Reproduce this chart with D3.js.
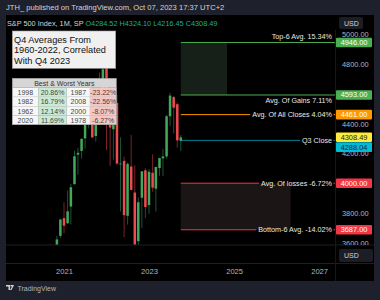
<!DOCTYPE html>
<html>
<head>
<meta charset="utf-8">
<script src="https://cdn.jsdelivr.net/npm/d3@7"></script>
<style>
  html, body { margin: 0; padding: 0; background: #1e212b; }
  svg { display: block; font-family: "Liberation Sans", Arial, sans-serif; }
</style>
</head>
<body>
<svg id="chart" width="380" height="300"></svg>
<script>
// monthly S&P 500 candles, Sep 2020 .. Oct 2023
const months = [
  '2020-09', '2020-10', '2020-11', '2020-12',
  '2021-01', '2021-02', '2021-03', '2021-04', '2021-05', '2021-06',
  '2021-07', '2021-08', '2021-09', '2021-10', '2021-11', '2021-12',
  '2022-01', '2022-02', '2022-03', '2022-04', '2022-05', '2022-06',
  '2022-07', '2022-08', '2022-09', '2022-10', '2022-11', '2022-12',
  '2023-01', '2023-02', '2023-03', '2023-04', '2023-05', '2023-06',
  '2023-07', '2023-08', '2023-09', '2023-10'
];
const opens = [3507, 3386, 3296, 3646, 3765, 3731, 3843, 3993, 4192, 4217, 4301, 4407, 4529, 4317, 4611, 4603,
  4778, 4520, 4363, 4540, 4131, 4150, 3781, 4112, 3937, 3610, 3902, 4087, 3853, 4070, 3963, 4102, 4167, 4180,
  4450, 4579, 4531, 4284.52];
const highs = [3588, 3550, 3646, 3760, 3871, 3950, 3994, 4219, 4238, 4302, 4430, 4546, 4546, 4608, 4744, 4809,
  4819, 4595, 4637, 4593, 4308, 4178, 4140, 4325, 4119, 3905, 4080, 4101, 4094, 4195, 4111, 4170, 4231, 4458,
  4607, 4585, 4541, 4324.10];
const lows = [3209, 3234, 3280, 3633, 3663, 3726, 3723, 3993, 4057, 4164, 4233, 4368, 4306, 4279, 4560, 4495,
  4223, 4115, 4158, 4124, 3810, 3637, 3722, 3955, 3584, 3492, 3698, 3764, 3794, 3943, 3809, 4049, 4048, 4166,
  4385, 4335, 4239, 4216.45];
const closes = [3363, 3270, 3622, 3756, 3714, 3811, 3973, 4181, 4204, 4298, 4395, 4523, 4308, 4605, 4567, 4766,
  4516, 4374, 4530, 4132, 4132, 3785, 4130, 3955, 3586, 3872, 4080, 3840, 4077, 3970, 4109, 4169, 4180, 4450,
  4589, 4508, 4288, 4308.49];

// projected Q4 levels
const levelNames = ['Top-6 Avg. 15.34%', 'Avg. Of Gains 7.11%', 'Avg. Of All Closes 4.04%', 'Q3 Close',
  'Avg. Of losses -6.72%', 'Bottom-6 Avg. -14.02%'];
const levelPrices = [4946, 4593, 4461, 4288.04, 4000, 3687];
const levelColors = ['#4caf50', '#4caf50', '#ff9800', '#00bcd4', '#f23645', '#f23645'];
const levelLabelPos = ['above', 'below', 'inline', 'inline', 'inline', 'inline'];
const lastClose = 4308.49;

const priceTicks = [5000, 4800, 4600, 4400, 4200, 4000, 3800, 3600];
const yearTicks = ['2021', '2023', '2025', '2027'];

// table
const bestYears = ['1998', '1982', '1962', '2020'];
const bestPct = ['20.86%', '16.79%', '12.14%', '11.69%'];
const worstYears = ['1987', '2008', '2000', '1978'];
const worstPct = ['-23.22%', '-22.56%', '-8.07%', '-6.27%'];

const titleLines = ['Q4 Averages From', '1960-2022, Correlated', 'With Q4 2023'];

const svg = d3.select('#chart');
const parse = d3.utcParse('%Y-%m');

const paneLeft = 6, paneRight = 374, paneTop = 15, paneBottom = 281;
const plotTop = 30, plotBottom = 245, axisX = 335;

const x = d3.scaleUtc()
  .domain([parse('2021-01'), parse('2023-01')])
  .range([64, 149]);
const y = d3.scaleLinear()
  .domain([3600, 4400])
  .range([242.7, 123.7]);

// frame
svg.append('rect').attr('x', paneLeft).attr('y', paneTop)
  .attr('width', paneRight - paneLeft).attr('height', paneBottom - paneTop).attr('fill', '#000');

svg.append('text').attr('x', 6).attr('y', 10)
  .attr('fill', '#d1d4dc').attr('font-size', 7.6)
  .text('JTH_ published on TradingView.com, Oct 07, 2023 17:37 UTC+2');

svg.append('clipPath').attr('id', 'plotclip').append('rect')
  .attr('x', paneLeft).attr('y', plotTop).attr('width', axisX - paneLeft).attr('height', plotBottom - plotTop);
svg.append('clipPath').attr('id', 'axisclip').append('rect')
  .attr('x', axisX).attr('y', plotTop).attr('width', paneRight - axisX).attr('height', plotBottom - plotTop);

const plot = svg.append('g').attr('clip-path', 'url(#plotclip)');

// shaded zones
plot.append('rect')
  .attr('x', x(parse('2023-10'))).attr('y', y(4946))
  .attr('width', x(parse('2024-11')) - x(parse('2023-10')))
  .attr('height', y(4593) - y(4946))
  .attr('fill', '#161f18');
plot.append('rect')
  .attr('x', x(parse('2023-10'))).attr('y', y(4000))
  .attr('width', x(parse('2026-05')) - x(parse('2023-10')))
  .attr('height', y(3687) - y(4000))
  .attr('fill', '#1c1515');

// candles
const candles = months.map((m, i) => ({
  date: parse(m), o: opens[i], h: highs[i], l: lows[i], c: closes[i]
}));
const bw = 2.5;
const cg = plot.selectAll('g.candle').data(candles).enter().append('g').attr('class', 'candle');
cg.append('line')
  .attr('x1', (d) => x(d.date)).attr('x2', (d) => x(d.date))
  .attr('y1', (d) => y(d.h)).attr('y2', (d) => y(d.l))
  .attr('stroke', (d) => d.c >= d.o ? '#1f6a4c' : '#9a2c33').attr('stroke-width', 0.8);
cg.append('rect')
  .attr('x', (d) => x(d.date) - bw / 2)
  .attr('y', (d) => y(Math.max(d.o, d.c)))
  .attr('width', bw)
  .attr('height', (d) => Math.max(0.8, Math.abs(y(d.o) - y(d.c))))
  .attr('fill', (d) => d.c >= d.o ? '#43a85a' : '#ee4b50');

// levels
const lx0 = x(parse('2023-10'));
const textRight = 332;
levelPrices.forEach((p, i) => {
  const ly = y(p);
  const col = levelColors[i];
  const pos = levelLabelPos[i];
  const t = plot.append('text')
    .attr('x', textRight).attr('text-anchor', 'end')
    .attr('fill', '#e8e8e8').attr('font-size', 7.2)
    .attr('dominant-baseline', 'central')
    .text(levelNames[i]);
  if (pos === 'above') t.attr('y', ly - 5.8);
  else if (pos === 'below') t.attr('y', ly + 6);
  else t.attr('y', ly);
  const lineOpacity = i === 3 ? 0.7 : 1;
  if (pos === 'inline') {
    const w = t.node().getComputedTextLength();
    plot.append('line').attr('x1', lx0).attr('x2', textRight - w - 2)
      .attr('y1', ly).attr('y2', ly).attr('stroke', col).attr('stroke-opacity', lineOpacity);
    plot.append('line').attr('x1', textRight + 1.5).attr('x2', axisX)
      .attr('y1', ly).attr('y2', ly).attr('stroke', col).attr('stroke-opacity', lineOpacity);
  } else {
    plot.append('line').attr('x1', lx0).attr('x2', axisX)
      .attr('y1', ly).attr('y2', ly).attr('stroke', col);
  }
});

// separators
svg.append('line').attr('x1', paneLeft).attr('x2', paneRight).attr('y1', plotBottom).attr('y2', plotBottom)
  .attr('stroke', '#1c1f27');
svg.append('line').attr('x1', paneLeft).attr('x2', paneRight).attr('y1', 263.5).attr('y2', 263.5)
  .attr('stroke', '#1c1f27');
svg.append('line').attr('x1', axisX + 0.5).attr('x2', axisX + 0.5).attr('y1', plotTop).attr('y2', paneBottom)
  .attr('stroke', '#15171d');

// price axis
const yAxis = d3.axisRight(y).tickValues(priceTicks).tickFormat(d3.format('.2f')).tickSize(0).tickPadding(7);
const ya = svg.append('g').attr('clip-path', 'url(#axisclip)').append('g')
  .attr('transform', `translate(${axisX},0)`).call(yAxis);
ya.select('.domain').remove();
ya.selectAll('text').attr('fill', '#b2b5be').attr('font-size', 7.4)
  .attr('font-family', '"Liberation Sans", Arial, sans-serif');

// price labels
const labels = levelPrices.map((p, i) => ({ p, bg: levelColors[i], fg: '#fff' }));
labels.push({ p: lastClose, bg: '#ffeb3b', fg: '#222' });
labels.forEach((d) => { if (d.bg === '#00bcd4') d.fg = '#222'; });
labels.forEach((d) => { d.cy = y(d.p); });
const yellow = labels.find((d) => d.p === lastClose);
const cyan = labels.find((d) => d.p === 4288.04);
cyan.cy = Math.max(cyan.cy, yellow.cy + 9.8);
const lh = 9.6;
const lg = svg.selectAll('g.plabel').data(labels).enter().append('g').attr('class', 'plabel');
lg.append('rect')
  .attr('x', 336).attr('y', (d) => d.cy - lh / 2).attr('width', 36).attr('height', lh)
  .attr('rx', 1).attr('fill', (d) => d.bg);
lg.append('text')
  .attr('x', 354).attr('y', (d) => d.cy).attr('text-anchor', 'middle')
  .attr('dominant-baseline', 'central').attr('font-size', 7.4).attr('fill', (d) => d.fg)
  .text((d) => d3.format('.2f')(d.p));

// time axis
const xAxis = d3.axisBottom(x).tickValues(yearTicks.map((t) => d3.utcParse('%Y')(t)))
  .tickFormat(d3.utcFormat('%Y')).tickSize(0).tickPadding(0);
const xa = svg.append('g').attr('transform', 'translate(0,268.5)').call(xAxis);
xa.select('.domain').remove();
xa.selectAll('text').attr('fill', '#b2b5be').attr('font-size', 7.6)
  .attr('font-family', '"Liberation Sans", Arial, sans-serif');

// header legend
const hdr = svg.append('text').attr('x', 7).attr('y', 26.3).attr('font-size', 7.3).attr('fill', '#d1d4dc');
hdr.append('tspan').text('S&P 500 Index, 1M, SP  ');
['O4284.52', 'H4324.10', 'L4216.45', 'C4308.49'].forEach((s) => {
  hdr.append('tspan').attr('fill', '#22ab94').text(s + '  ');
});

// USD buttons
[[339, 17, 24, 12], [339, 249, 34, 13]].forEach(([bx, by, bwid, bh]) => {
  svg.append('rect').attr('x', bx).attr('y', by).attr('width', bwid).attr('height', bh)
    .attr('rx', 2).attr('fill', '#1b1e27');
  svg.append('text').attr('x', bx + 5).attr('y', by + bh / 2).attr('dominant-baseline', 'central')
    .attr('font-size', 7).attr('fill', '#d1d4dc').text('USD');
});

// title box
svg.append('rect').attr('x', 12.3).attr('y', 31).attr('width', 103.4).attr('height', 37.3)
  .attr('fill', '#f0f0f0').attr('stroke', '#9e9e9e').attr('stroke-width', 0.6);
svg.selectAll('text.tline').data(titleLines).enter().append('text').attr('class', 'tline')
  .attr('x', 14).attr('y', (d, i) => 39.7 + i * 10.5).attr('dominant-baseline', 'central')
  .attr('font-size', 9.2).attr('fill', '#111').text((d) => d);

// table
const colX = [12.3, 38.3, 66.7, 90, 116.3];
const rowTop = 78.3, headH = 9.4, rowH = 9.25;
const tg = svg.append('g');
tg.append('rect').attr('x', colX[0]).attr('y', rowTop).attr('width', colX[4] - colX[0]).attr('height', headH)
  .attr('fill', '#d6d6d6');
tg.append('text').attr('x', (colX[0] + colX[4]) / 2).attr('y', rowTop + headH / 2 + 0.3)
  .attr('text-anchor', 'middle').attr('dominant-baseline', 'central')
  .attr('font-size', 7).attr('fill', '#333').text('Best & Worst Years');
const cols = [bestYears, bestPct, worstYears, worstPct];
const colBg = ['#f7f7f7', '#c9ead4', '#f7f7f7', '#f5c6c2'];
cols.forEach((vals, ci) => {
  vals.forEach((v, ri) => {
    const ry = rowTop + headH + ri * rowH;
    tg.append('rect').attr('x', colX[ci]).attr('y', ry).attr('width', colX[ci + 1] - colX[ci]).attr('height', rowH)
      .attr('fill', colBg[ci]).attr('stroke', '#d0d0d0').attr('stroke-width', 0.4);
    tg.append('text').attr('x', (colX[ci] + colX[ci + 1]) / 2).attr('y', ry + rowH / 2 + 0.3)
      .attr('text-anchor', 'middle').attr('dominant-baseline', 'central')
      .attr('font-size', 7).attr('fill', '#444').text(v);
  });
});
tg.append('rect').attr('x', colX[0]).attr('y', rowTop).attr('width', colX[4] - colX[0])
  .attr('height', headH + 4 * rowH).attr('fill', 'none').attr('stroke', '#a0a0a0').attr('stroke-width', 0.6);

// footer logo
const logo = svg.append('g').attr('transform', 'translate(6,285)');
logo.append('path').attr('d', 'M0,0 H4 V5 H2.5 V1.5 H0 Z M4.5,0 H8 L5.5,5 H4 L6,1.5 H4.5 Z').attr('fill', '#d1d4dc');
svg.append('text').attr('x', 17.5).attr('y', 288).attr('dominant-baseline', 'central')
  .attr('font-size', 7).attr('fill', '#b2b5be').text('TradingView');
</script>
</body>
</html>
